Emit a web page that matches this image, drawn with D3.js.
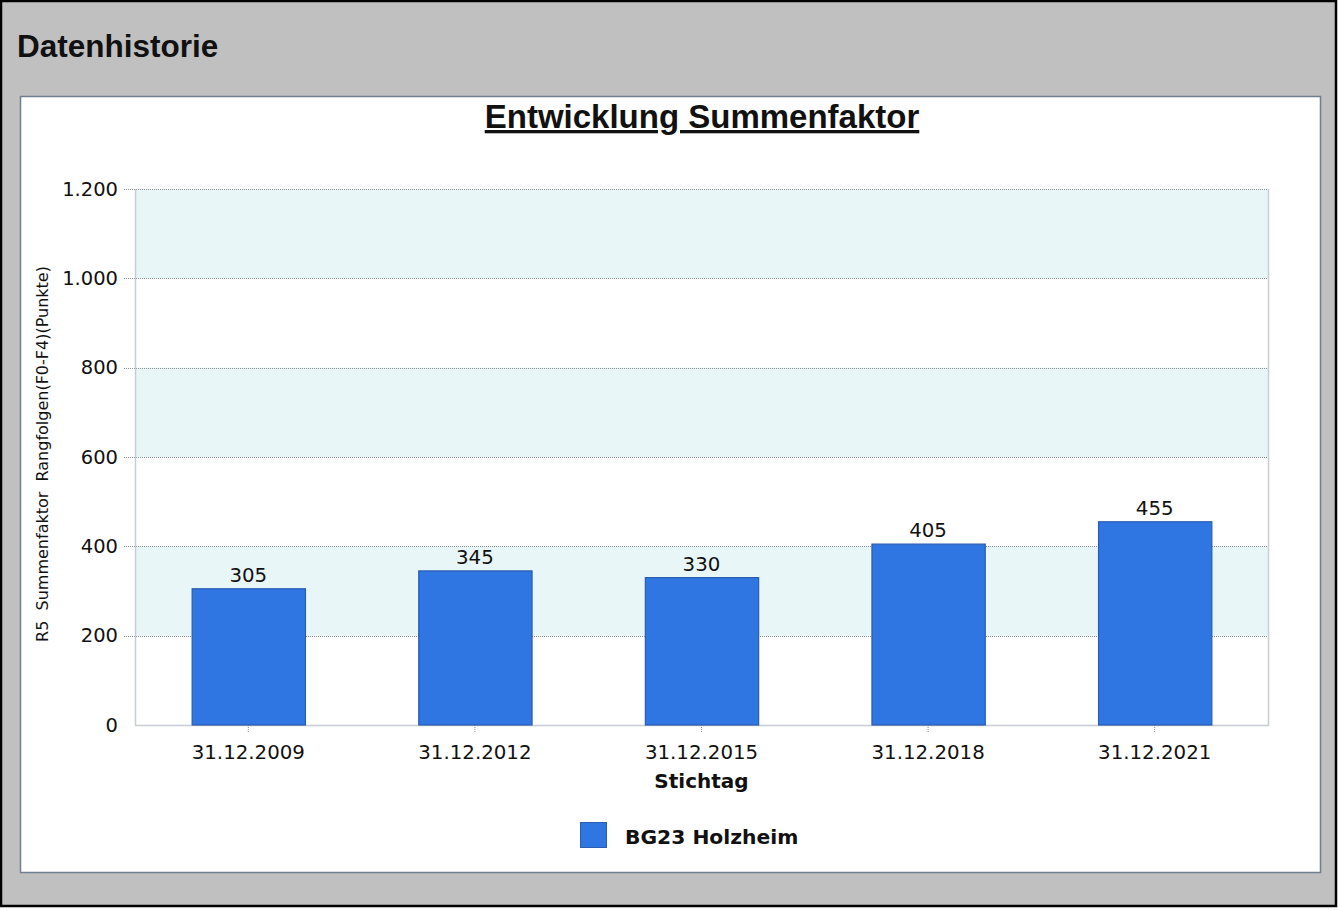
<!DOCTYPE html>
<html>
<head>
<meta charset="utf-8">
<script src="https://cdn.jsdelivr.net/npm/d3@7"></script>
<style>
  body { margin: 0; background: #fff; }
  svg { display: block; }
</style>
</head>
<body>
<div id="chart"></div>
<script>
// data
var dates = ["31.12.2009", "31.12.2012", "31.12.2015", "31.12.2018", "31.12.2021"];
var values = [305, 345, 330, 405, 455];
var yTicks = [0, 200, 400, 600, 800, 1000, 1200];
var bands = [[200, 400], [600, 800], [1000, 1200]];
var seriesName = "BG23 Holzheim";

var W = 1338, H = 910;
var margin = {top: 189, right: 70, bottom: 185, left: 135},
    width = 1268 - margin.left,
    height = 725 - margin.top;

var svg = d3.select("#chart")
    .append("svg")
    .attr("width", W)
    .attr("height", H);

// outer frame
svg.append("rect")
    .attr("x", 1).attr("y", 1)
    .attr("width", 1335).attr("height", 905)
    .attr("fill", "#c0c0c0")
    .attr("stroke", "#000")
    .attr("stroke-width", 2.5);

svg.append("text")
    .attr("x", 17).attr("y", 57)
    .attr("font-family", "Liberation Sans, Arial, sans-serif")
    .attr("font-weight", "bold")
    .attr("font-size", "31.5px")
    .attr("fill", "#111")
    .text("Datenhistorie");

// white panel
svg.append("rect")
    .attr("x", 20.5).attr("y", 96.5)
    .attr("width", 1300).attr("height", 776)
    .attr("fill", "#fff")
    .attr("stroke", "#6f7f8e")
    .attr("stroke-width", 1.5);

svg.append("text")
    .attr("x", 702).attr("y", 128)
    .attr("text-anchor", "middle")
    .attr("font-family", "Liberation Sans, Arial, sans-serif")
    .attr("font-weight", "bold")
    .attr("font-size", "33px")
    .attr("text-decoration", "underline")
    .attr("fill", "#111")
    .text("Entwicklung Summenfaktor");

var g = svg.append("g")
    .attr("transform", "translate(" + margin.left + "," + margin.top + ")");

var x = d3.scaleBand()
    .domain(dates)
    .range([0, width])
    .paddingInner(0.5)
    .paddingOuter(0.25);

var y = d3.scaleLinear()
    .domain([0, 1200])
    .range([height, 0]);

// bands
g.selectAll(".band")
    .data(bands)
    .enter().append("rect")
    .attr("x", 0)
    .attr("y", function(d) { return y(d[1]); })
    .attr("width", width)
    .attr("height", function(d) { return y(d[0]) - y(d[1]); })
    .attr("fill", "#e8f6f8");

// grid lines, extended left as ticks
g.selectAll(".grid")
    .data(yTicks.filter(function(d) { return d > 0; }))
    .enter().append("line")
    .attr("x1", -11).attr("x2", width)
    .attr("y1", function(d) { return Math.round(y(d)) + 0.5; })
    .attr("y2", function(d) { return Math.round(y(d)) + 0.5; })
    .attr("stroke", "#8a8f96")
    .attr("stroke-width", 1)
    .attr("stroke-dasharray", "1,1");

// plot frame: left, right, bottom
g.append("path")
    .attr("d", "M0.5,0V" + (height + 0.5) + "H" + (width + 0.5) + "V0")
    .attr("fill", "none")
    .attr("stroke", "#c8ccd4")
    .attr("stroke-width", 1.5);

// y tick labels
var yAxis = g.append("g")
    .call(d3.axisLeft(y).tickValues(yTicks).tickSize(0).tickPadding(17)
        .tickFormat(function(d) { return d3.format(",")(d).replace(",", "."); }));
yAxis.select(".domain").remove();
yAxis.selectAll("text")
    .attr("font-family", "DejaVu Sans, Verdana, sans-serif")
    .attr("font-size", "19.5px")
    .attr("fill", "#111");

// x axis
var xAxis = g.append("g")
    .attr("transform", "translate(0," + height + ")")
    .call(d3.axisBottom(x).tickSize(8).tickPadding(12));
xAxis.select(".domain").remove();
xAxis.selectAll("line")
    .attr("stroke", "#8a8f96")
    .attr("stroke-dasharray", "1,1");
xAxis.selectAll("text")
    .attr("font-family", "DejaVu Sans, Verdana, sans-serif")
    .attr("font-size", "19.8px")
    .attr("fill", "#111");

// bars
g.selectAll(".bar")
    .data(values)
    .enter().append("rect")
    .attr("x", function(d, i) { return x(dates[i]) + 0.5; })
    .attr("y", function(d) { return y(d); })
    .attr("width", x.bandwidth())
    .attr("height", function(d) { return height - y(d); })
    .attr("fill", "#2f76e3")
    .attr("stroke", "#2a5cb0")
    .attr("stroke-width", 1.2);

g.selectAll(".val")
    .data(values)
    .enter().append("text")
    .attr("x", function(d, i) { return x(dates[i]) + x.bandwidth() / 2; })
    .attr("y", function(d) { return y(d) - 7; })
    .attr("text-anchor", "middle")
    .attr("font-family", "DejaVu Sans, Verdana, sans-serif")
    .attr("font-size", "19.8px")
    .attr("fill", "#111")
    .text(function(d) { return d; });

// axis titles
g.append("text")
    .attr("x", width / 2)
    .attr("y", height + 63)
    .attr("text-anchor", "middle")
    .attr("font-family", "DejaVu Sans, Verdana, sans-serif")
    .attr("font-weight", "bold")
    .attr("font-size", "20px")
    .attr("fill", "#111")
    .text("Stichtag");

g.append("text")
    .attr("transform", "translate(-87," + (height / 2 - 3) + ") rotate(-90)")
    .attr("text-anchor", "middle")
    .attr("font-family", "DejaVu Sans, Verdana, sans-serif")
    .attr("font-size", "16px")
    .attr("fill", "#111")
    .attr("xml:space", "preserve")
    .text("R5  Summenfaktor  Rangfolgen(F0-F4)(Punkte)");

// legend
var legend = svg.append("g").attr("transform", "translate(580,822)");
legend.append("rect")
    .attr("x", 0.5).attr("y", 0.5)
    .attr("width", 26).attr("height", 25)
    .attr("fill", "#2f76e3")
    .attr("stroke", "#2a5cb0");
legend.append("text")
    .attr("x", 45).attr("y", 22)
    .attr("font-family", "DejaVu Sans, Verdana, sans-serif")
    .attr("font-weight", "bold")
    .attr("font-size", "20.3px")
    .attr("fill", "#111")
    .text(seriesName);
</script>
</body>
</html>
